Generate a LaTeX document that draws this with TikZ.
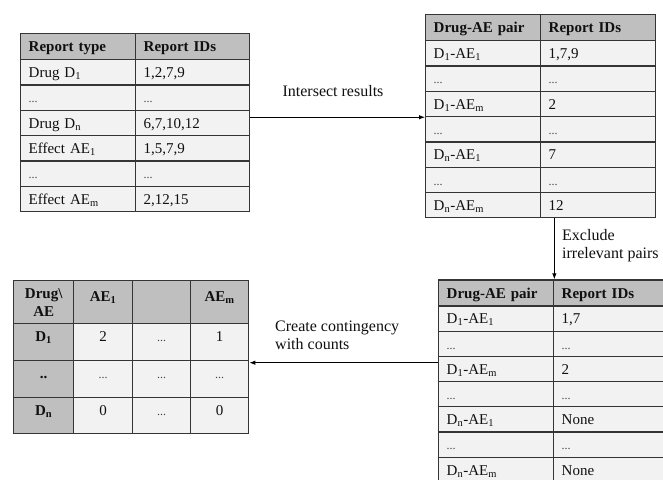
\documentclass[tikz,border=0pt]{standalone}
\usepackage{fontspec}
\setmainfont{Liberation Serif}
\usetikzlibrary{arrows.meta,calc}
\definecolor{hdr}{HTML}{BFBFBF}
\definecolor{bodyc}{HTML}{F2F2F2}
\definecolor{gridc}{HTML}{353535}
\definecolor{txt}{HTML}{101010}
\definecolor{dotc}{HTML}{444444}
\newcommand\mydots{{\color{dotc}\fontsize{12}{12}\selectfont...}}
\newcommand\mkcell[7]{\pgfmathsetmacro\cellTW{#5-16}\node[#1, minimum width=#5pt, minimum height=#6pt, text width=\cellTW pt] (#2) at (#3,#4) {#7};}
\tikzset{
  cellbase/.style={draw=gridc, line width=1.35pt, anchor=north west, inner xsep=8pt, inner ysep=0pt, font=\fontsize{15}{18}\selectfont, text=txt},
  lbody/.style={cellbase, fill=bodyc, align=left, text height=10.5pt, text depth=0pt},
  lhead/.style={lbody, fill=hdr, font=\fontsize{15}{18}\selectfont\bfseries},
  cbody/.style={cellbase, fill=bodyc, align=center, text height=11pt, text depth=12pt},
  cside/.style={cbody, fill=hdr, font=\fontsize{15}{18}\selectfont\bfseries},
  chead/.style={cbody, fill=hdr, font=\fontsize{15}{18}\selectfont\bfseries},
  cheadm/.style={cellbase, fill=hdr, align=center, font=\fontsize{15}{18}\selectfont\bfseries},
  arr/.style={line width=0.9pt, draw=black, -{Latex[length=6pt,width=4.5pt]}},
  lbl/.style={inner sep=0pt, font=\fontsize{16}{18}\selectfont, text=txt, align=left}
}
\begin{document}
\begin{tikzpicture}[x=1pt,y=-1pt]
\useasboundingbox (0,0) rectangle (663,479);
\clip (0,0) rectangle (663,479);
\fill[white] (0,0) rectangle (663,479);
% ---------- top-left table ----------
\mkcell{lhead}{tl01}{20}{33}{115}{26}{Report type}
\mkcell{lhead}{tl02}{135}{33}{114}{26}{Report IDs}
\mkcell{lbody}{tl11}{20}{59}{115}{25.3}{Drug D\textsubscript{1}}
\mkcell{lbody}{tl12}{135}{59}{114}{25.3}{1,2,7,9}
\mkcell{lbody}{tl21}{20}{84.3}{115}{25.3}{\mydots}
\mkcell{lbody}{tl22}{135}{84.3}{114}{25.3}{\mydots}
\mkcell{lbody}{tl31}{20}{109.6}{115}{25.3}{Drug D\textsubscript{n}}
\mkcell{lbody}{tl32}{135}{109.6}{114}{25.3}{6,7,10,12}
\mkcell{lbody}{tl41}{20}{134.9}{115}{25.3}{Effect AE\textsubscript{1}}
\mkcell{lbody}{tl42}{135}{134.9}{114}{25.3}{1,5,7,9}
\mkcell{lbody}{tl51}{20}{160.2}{115}{25.3}{\mydots}
\mkcell{lbody}{tl52}{135}{160.2}{114}{25.3}{\mydots}
\mkcell{lbody}{tl61}{20}{185.5}{115}{25.3}{Effect AE\textsubscript{m}}
\mkcell{lbody}{tl62}{135}{185.5}{114}{25.3}{2,12,15}
% ---------- top-right table ----------
\mkcell{lhead}{tr01}{425}{14}{115}{26}{Drug-AE pair}
\mkcell{lhead}{tr02}{540}{14}{115}{26}{Report IDs}
\mkcell{lbody}{tr11}{425}{40}{115}{25.3}{D\textsubscript{1}-AE\textsubscript{1}}
\mkcell{lbody}{tr12}{540}{40}{115}{25.3}{1,7,9}
\mkcell{lbody}{tr21}{425}{65.3}{115}{25.3}{\mydots}
\mkcell{lbody}{tr22}{540}{65.3}{115}{25.3}{\mydots}
\mkcell{lbody}{tr31}{425}{90.6}{115}{25.3}{D\textsubscript{1}-AE\textsubscript{m}}
\mkcell{lbody}{tr32}{540}{90.6}{115}{25.3}{2}
\mkcell{lbody}{tr41}{425}{115.9}{115}{25.3}{\mydots}
\mkcell{lbody}{tr42}{540}{115.9}{115}{25.3}{\mydots}
\mkcell{lbody}{tr51}{425}{141.2}{115}{25.3}{D\textsubscript{n}-AE\textsubscript{1}}
\mkcell{lbody}{tr52}{540}{141.2}{115}{25.3}{7}
\mkcell{lbody}{tr61}{425}{166.5}{115}{25.3}{\mydots}
\mkcell{lbody}{tr62}{540}{166.5}{115}{25.3}{\mydots}
\mkcell{lbody}{tr71}{425}{191.8}{115}{25.3}{D\textsubscript{n}-AE\textsubscript{m}}
\mkcell{lbody}{tr72}{540}{191.8}{115}{25.3}{12}
% ---------- bottom-right table ----------
\mkcell{lhead}{br01}{438}{279.3}{115}{26}{Drug-AE pair}
\mkcell{lhead}{br02}{553}{279.3}{115}{26}{Report IDs}
\mkcell{lbody}{br11}{438}{305.3}{115}{25.2}{D\textsubscript{1}-AE\textsubscript{1}}
\mkcell{lbody}{br12}{553}{305.3}{115}{25.2}{1,7}
\mkcell{lbody}{br21}{438}{330.5}{115}{25.2}{\mydots}
\mkcell{lbody}{br22}{553}{330.5}{115}{25.2}{\mydots}
\mkcell{lbody}{br31}{438}{355.7}{115}{25.2}{D\textsubscript{1}-AE\textsubscript{m}}
\mkcell{lbody}{br32}{553}{355.7}{115}{25.2}{2}
\mkcell{lbody}{br41}{438}{380.9}{115}{25.2}{\mydots}
\mkcell{lbody}{br42}{553}{380.9}{115}{25.2}{\mydots}
\mkcell{lbody}{br51}{438}{406.1}{115}{25.2}{D\textsubscript{n}-AE\textsubscript{1}}
\mkcell{lbody}{br52}{553}{406.1}{115}{25.2}{None}
\mkcell{lbody}{br61}{438}{431.3}{115}{25.2}{\mydots}
\mkcell{lbody}{br62}{553}{431.3}{115}{25.2}{\mydots}
\mkcell{lbody}{br71}{438}{456.5}{115}{25.2}{D\textsubscript{n}-AE\textsubscript{m}}
\mkcell{lbody}{br72}{553}{456.5}{115}{25.2}{None}
% ---------- bottom-left contingency table ----------
\mkcell{cheadm}{bl01}{13}{280}{60}{43}{Drug\textbackslash\\AE}
\mkcell{chead}{bl02}{73}{280}{59}{43}{AE\textsubscript{1}}
\mkcell{chead}{bl03}{132}{280}{58}{43}{}
\mkcell{chead}{bl04}{190}{280}{58}{43}{AE\textsubscript{m}}
\mkcell{cside}{bl11}{13}{323}{60}{37}{D\textsubscript{1}}
\mkcell{cbody}{bl12}{73}{323}{59}{37}{2}
\mkcell{cbody}{bl13}{132}{323}{58}{37}{\mydots}
\mkcell{cbody}{bl14}{190}{323}{58}{37}{1}
\mkcell{cside}{bl21}{13}{360}{60}{37}{..}
\mkcell{cbody}{bl22}{73}{360}{59}{37}{\mydots}
\mkcell{cbody}{bl23}{132}{360}{58}{37}{\mydots}
\mkcell{cbody}{bl24}{190}{360}{58}{37}{\mydots}
\mkcell{cside}{bl31}{13}{397}{60}{36}{D\textsubscript{n}}
\mkcell{cbody}{bl32}{73}{397}{59}{36}{0}
\mkcell{cbody}{bl33}{132}{397}{58}{36}{\mydots}
\mkcell{cbody}{bl34}{190}{397}{58}{36}{0}
% ---------- connectors ----------
\draw[arr] (tl32.east |- tr31.south) -- (tr31.south west);
\node[lbl] (lab1) at (333,91) {Intersect results};
\draw[arr] (br01.north east |- tr72.south) -- (br01.north east);
\node[lbl, anchor=west] (lab2) at (562,245.5) {Exclude\\irrelevant pairs};
\coordinate (cA) at ([yshift=-2.7pt]bl24.north east);
\draw[arr] (cA -| br31.west) -- (cA);
\node[lbl, anchor=west] (lab3) at (275,335) {Create contingency\\with counts};
\end{tikzpicture}
\end{document}
